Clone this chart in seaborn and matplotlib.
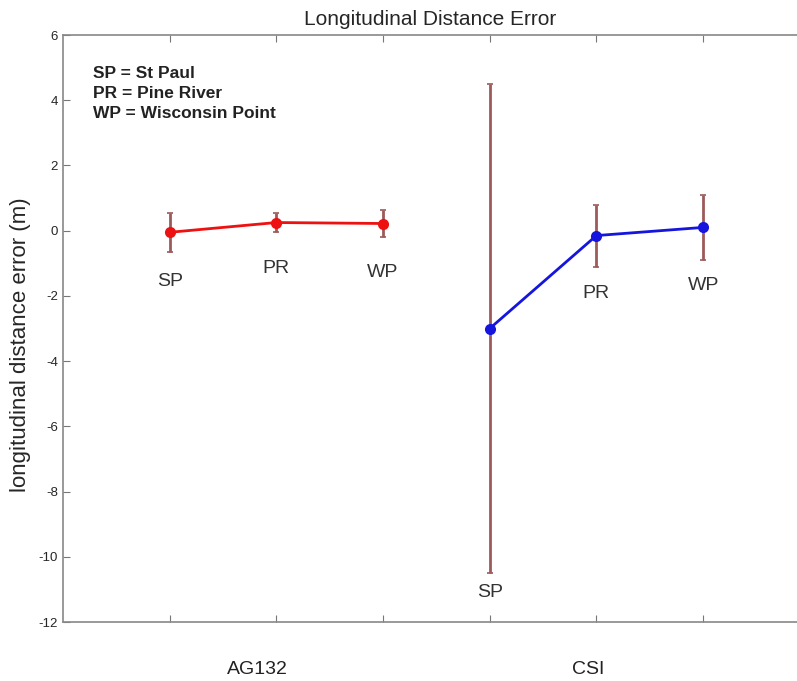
import matplotlib
matplotlib.use("Agg")
import matplotlib.pyplot as plt
import seaborn as sns
import pandas as pd

sites = ["SP", "PR", "WP"]
ag132_x = [1, 2, 3]
ag132_mean = [-0.05, 0.25, 0.22]
ag132_err = [0.6, 0.28, 0.4]
csi_x = [4, 5, 6]
csi_mean = [-3.0, -0.15, 0.1]
csi_err = [7.5, 0.95, 1.0]
ag132_label_y = [-1.55, -1.15, -1.27]
csi_label_y = [-11.1, -1.92, -1.67]
groups = ["AG132", "CSI"]
y_ticks = [6, 4, 2, 0, -2, -4, -6, -8, -10, -12]

sns.set_style("white")
plt.rcParams['font.family'] = ['Liberation Sans', 'DejaVu Sans']
plt.rcParams['axes.unicode_minus'] = False

df = pd.DataFrame({
    "x": ag132_x + csi_x,
    "y": ag132_mean + csi_mean,
    "group": ["AG132"] * 3 + ["CSI"] * 3,
})

fig = plt.figure(figsize=(7.97, 6.81), dpi=100)
ax = fig.add_axes([0.079, 0.0866, 0.921, 0.862])

errc = "#9c5a5a"
ax.errorbar(ag132_x, ag132_mean, yerr=ag132_err, fmt="none", ecolor=errc,
            elinewidth=2, capsize=2, capthick=1.2, zorder=1)
ax.errorbar(csi_x, csi_mean, yerr=csi_err, fmt="none", ecolor=errc,
            elinewidth=2, capsize=2, capthick=1.2, zorder=1)

sns.lineplot(data=df, x="x", y="y", hue="group", palette={"AG132": "#ee1111", "CSI": "#1515dd"},
             marker="o", markersize=8, markeredgewidth=0, linewidth=2, legend=False, ax=ax, zorder=3)

for x, y, s in zip(ag132_x, ag132_label_y, sites):
    ax.text(x, y, s, ha="center", va="center", fontsize=14, color="#333333")
for x, y, s in zip(csi_x, csi_label_y, sites):
    ax.text(x, y, s, ha="center", va="center", fontsize=14, color="#333333")

ax.text(0.28, 4.2, "SP = St Paul\nPR = Pine River\nWP = Wisconsin Point", ha="left", va="center",
        fontsize=12.5, fontweight="bold", linespacing=1.4, color="#222222")

ax.set_xlim(0, 6.88)
ax.set_ylim(-12, 6)
ax.set_yticks(y_ticks)
ax.set_xticks([1, 2, 3, 4, 5, 6])
ax.set_xticklabels([])
ax.tick_params(axis="both", direction="in", length=5, color="#777777", labelsize=9.5, top=True, left=True, bottom=True)
ax.set_xlabel("")
ax.set_ylabel("longitudinal distance error (m)", fontsize=16)
ax.yaxis.set_label_coords(-0.043, 0.472)
for side in ["left", "top", "bottom"]:
    ax.spines[side].set_color("#888888")
    ax.spines[side].set_linewidth(1.2)
ax.spines["right"].set_visible(False)

ax.text(1.82, -13.47, groups[0], ha="center", va="center", fontsize=14, color="#222222")
ax.text(4.92, -13.47, groups[1], ha="center", va="center", fontsize=14, color="#222222")

ax.set_title("Longitudinal Distance Error", fontsize=15, pad=7)

fig.savefig("out.png", dpi=100)
